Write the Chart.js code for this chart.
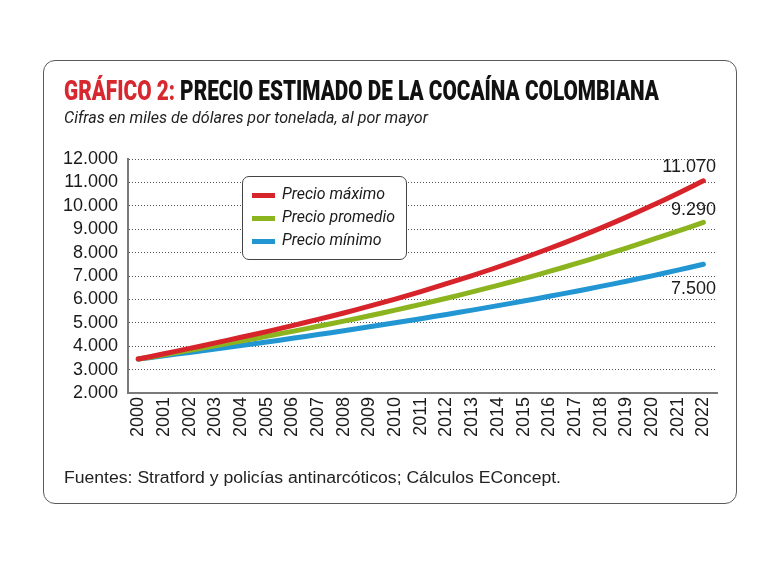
<!DOCTYPE html>
<html>
<head>
<meta charset="utf-8">
<script src="https://cdn.jsdelivr.net/npm/chart.js@4/dist/chart.umd.min.js"></script>
<style>
  html, body { margin:0; padding:0; background:#fff; }
  #wrap { position:relative; width:780px; height:565px; overflow:hidden; }
  #frame { position:absolute; left:43px; top:60px; width:692px; height:442px; border:1.5px solid #5a5a5a; border-radius:12px; }
  canvas { position:absolute; left:0; top:0; }
  .fit { position:absolute; white-space:nowrap; transform-origin:left top; display:inline-block; }
  #title { left:64px; top:78px; font-family:"Roboto",sans-serif; font-weight:900; font-size:27px; line-height:27px; color:#111; }
  #title .red { color:#d7282f; }
  #subtitle { left:64px; top:109px; font-family:"Roboto",sans-serif; font-style:italic; font-size:16px; line-height:18px; color:#222; }
  #footer { left:64px; top:469px; font-family:"Liberation Sans",sans-serif; font-size:16px; line-height:18px; color:#222; }
  #legend { position:absolute; left:242px; top:176px; width:163px; height:82px; border:1.5px solid #444; border-radius:7px; background:#fff; }
  .sw { position:absolute; left:252px; width:23px; height:5px; }
  .lt { font-family:"Roboto",sans-serif; font-style:italic; font-size:16px; line-height:18px; color:#1a1a1a; left:282px; }
</style>
</head>
<body>
<div id="wrap">
  <canvas id="c" width="780" height="565"></canvas>
  <div id="frame"></div>
  <div id="title" class="fit"><span class="red">GRÁFICO 2:</span> PRECIO ESTIMADO DE LA COCAÍNA COLOMBIANA</div>
  <div id="subtitle" class="fit">Cifras en miles de dólares por tonelada, al por mayor</div>
  <div id="legend"></div>
  <div id="legendItems"></div>
  <div id="footer" class="fit">Fuentes: Stratford y policías antinarcóticos; Cálculos EConcept.</div>
</div>
<script>
// ---- data ----
const years = [2000,2001,2002,2003,2004,2005,2006,2007,2008,2009,2010,2011,2012,2013,2014,2015,2016,2017,2018,2019,2020,2021,2022];
const seriesNames = ["Precio máximo", "Precio promedio", "Precio mínimo"];
const maxPrice = [3450,3675,3905,4140,4380,4625,4880,5145,5420,5710,6015,6335,6670,7020,7385,7770,8175,8600,9045,9515,10010,10530,11070];
const avgPrice = [3450,3635,3825,4020,4220,4425,4635,4850,5070,5300,5540,5790,6050,6320,6600,6890,7195,7515,7850,8195,8550,8915,9290];
const minPrice = [3450,3590,3733,3879,4028,4180,4336,4496,4660,4828,5000,5176,5357,5543,5734,5930,6132,6340,6555,6777,7007,7250,7500];
const yTickValues = [2000,3000,4000,5000,6000,7000,8000,9000,10000,11000,12000];

// ---- styles ----
const colors = ["#d7242b", "#8cb41f", "#2196d3"];
const endLabelOffsets = [-14, -12, 25];

function fmt(v) { return String(v).replace(/\B(?=(\d{3})+(?!\d))/g, "."); }

function fitWidth(el, w) {
  el.style.transform = "none";
  const cur = el.getBoundingClientRect().width;
  el.style.transform = "scaleX(" + (w / cur) + ")";
}

// legend (HTML)
const li = document.getElementById("legendItems");
const legendY = [195, 218, 241];
const legendTexts = [];
seriesNames.forEach((n, i) => {
  const s = document.createElement("div");
  s.className = "sw"; s.style.top = (legendY[i] - 2.5) + "px"; s.style.background = colors[i];
  li.appendChild(s);
  const t = document.createElement("div");
  t.className = "fit lt"; t.style.top = (legendY[i] - 10) + "px"; t.textContent = n;
  li.appendChild(t); legendTexts.push(t);
});

fitWidth(document.getElementById("title"), 595);
fitWidth(document.getElementById("subtitle"), 364);
fitWidth(document.getElementById("footer"), 497);
(function(){
  const t = legendTexts[1]; t.style.transform = "none";
  const k = 113 / t.getBoundingClientRect().width;
  legendTexts.forEach(e => e.style.transform = "scaleX(" + k + ")");
})();

const endLabels = {
  id: "endLabels",
  afterDatasetsDraw(chart) {
    const ctx = chart.ctx, ys = chart.scales.y, area = chart.chartArea;
    ctx.save();
    ctx.font = "18px 'Liberation Sans', Arial, sans-serif";
    ctx.fillStyle = "#1a1a1a";
    ctx.textAlign = "right";
    ctx.textBaseline = "middle";
    chart.data.datasets.forEach((ds, i) => {
      const last = ds.data[ds.data.length - 1].y;
      ctx.fillText(fmt(last), area.right - 1, ys.getPixelForValue(last) + endLabelOffsets[i]);
    });
    ctx.restore();
  }
};

const seriesData = [maxPrice, avgPrice, minPrice];
new Chart(document.getElementById("c"), {
  type: "line",
  data: {
    datasets: seriesData.map((arr, i) => ({
      label: seriesNames[i],
      data: arr.map((v, k) => ({ x: years[k], y: v })),
      borderColor: colors[i],
      backgroundColor: colors[i],
      borderWidth: 5,
      borderCapStyle: "round",
      borderJoinStyle: "round",
      pointRadius: 0,
      tension: 0.4,
      fill: false
    }))
  },
  options: {
    responsive: false,
    animation: false,
    layout: { padding: { top: 159, right: 63, left: 0, bottom: 0 } },
    plugins: { legend: { display: false }, tooltip: { enabled: false } },
    scales: {
      x: {
        type: "linear",
        min: 1999.6, max: 2022.53,
        afterFit(s) { s.height = 172; },
        grid: { display: false, drawTicks: false },
        border: { display: true, color: "#7a7a7a", width: 2 },
        ticks: {
          stepSize: 1, includeBounds: false, autoSkip: false,
          minRotation: 90, maxRotation: 90, padding: 4,
          color: "#1a1a1a",
          font: { family: "'Liberation Sans', Arial, sans-serif", size: 18 },
          callback: v => String(v)
        }
      },
      y: {
        min: 2000, max: 12000,
        afterFit(s) { s.width = 128; },
        afterBuildTicks(s) { s.ticks = yTickValues.map(v => ({ value: v })); },
        grid: { color: "#555", lineWidth: 1, drawTicks: false },
        border: { display: true, color: "#7a7a7a", width: 2, dash: [1, 2] },
        ticks: {
          autoSkip: false,
          padding: 10,
          color: "#1a1a1a",
          font: { family: "'Liberation Sans', Arial, sans-serif", size: 18 },
          callback: v => fmt(v)
        }
      }
    }
  },
  plugins: [endLabels]
});
</script>
</body>
</html>
